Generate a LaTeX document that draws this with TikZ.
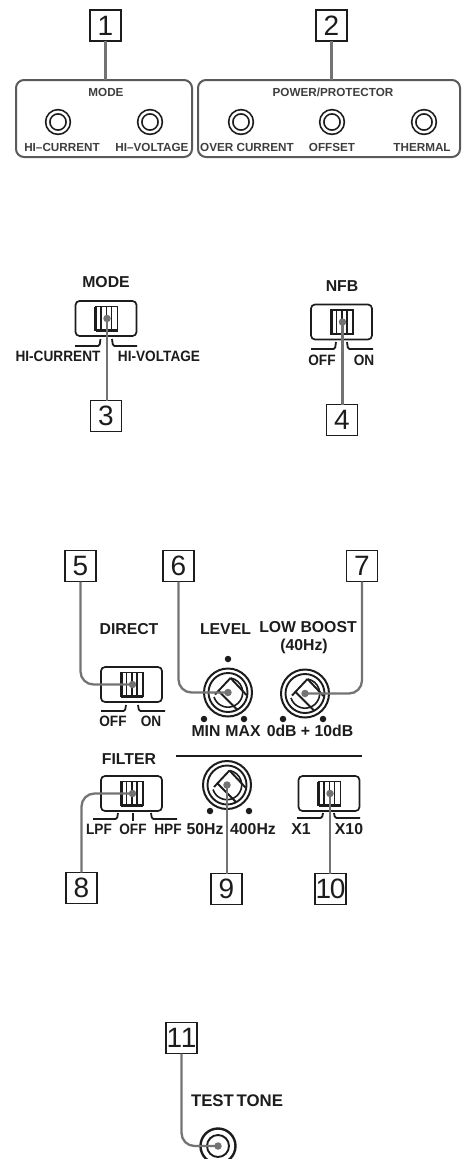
\documentclass[tikz,border=0pt]{standalone}
\usepackage{fontspec}
\setmainfont{Liberation Sans}
\newfontfamily\tightfont[FakeStretch=0.91]{Liberation Sans}
\definecolor{ink}{HTML}{1c1c1c}
\definecolor{lead}{HTML}{737373}
\definecolor{frame}{HTML}{5a5a5a}
\newcommand{\fsz}[1]{\fontsize{#1}{#1}\selectfont}
\tikzset{
  numbox/.style={draw=ink,line width=1.1pt,fill=white,minimum width=31pt,minimum height=31pt,inner sep=0pt,outer sep=0pt,text=ink,font=\fsz{28}},
  panel/.style={draw=frame,line width=2pt,rounded corners=8pt,inner sep=0pt,outer sep=0pt,minimum height=77pt},
  leader/.style={draw=lead,line width=2.3pt,rounded corners=13pt},
  led/.style={draw=ink,line width=1.7pt,double=white,double distance=2.4pt,circle,inner sep=0pt,outer sep=0pt,minimum size=20.5pt},
  small/.style={font=\bfseries\fsz{11.7},text=ink!85!white,inner sep=0pt},
  big/.style={font=\bfseries\fsz{15.8},text=ink,inner sep=0pt},
  tight/.style={font=\tightfont\bfseries\fsz{15},text=ink,inner sep=0pt},
  swbody/.style={draw=ink,line width=1.7pt,rounded corners=4pt,minimum width=61pt,minimum height=35pt,inner sep=0pt,outer sep=0pt},
  brk/.style={draw=ink,line width=1.8pt,rounded corners=1.5pt},
  pin/.style={circle,fill=lead,inner sep=0pt,outer sep=0pt,minimum size=7.5pt},
  mark1/.style={circle,fill=ink,inner sep=0pt,outer sep=0pt,minimum size=6.5pt},
}
% name, x, y (switch body centre)
\newcommand{\swi}[3]{%
  \node[swbody] (#1) at (#2,#3) {};
  \begin{scope}[shift={(#2,#3)}]
    \draw[ink,line width=1.7pt] (-10.5,-12) rectangle (11.5,12);
    \draw[ink,line width=3pt] (-10.5,-12) -- (-10.5,12);
    \draw[ink,line width=2.8pt] (-10.5,12) -- (11.5,12);
    \draw[ink,line width=1.4pt] (-5,-12) -- (-5,12) (0.5,-12) -- (0.5,12) (5.5,-12) -- (5.5,12);
    \node[pin] (#1dot) at (1,0) {};
  \end{scope}}
\newcommand{\knob}[3]{%
  \node[circle,draw=ink,line width=2pt,minimum size=48pt,inner sep=0pt,outer sep=0pt] (#1) at (#2,#3) {};
  \begin{scope}[shift={(#2,#3)}]
    \draw[ink,line width=1.9pt] (0,0) circle[radius=19.5];
    \draw[ink,line width=1.9pt] (2.5,-14.5) -- (-13,2) (2.5,-14.5) -- (18.5,2.5) (-9.5,-1.5) -- (9,17);
    \draw[ink,line width=1.6pt] (-14,4.5) arc[start angle=162,end angle=-80,radius=14.7];
    \node[pin] (#1dot) at (0,0) {};
  \end{scope}}
\begin{document}
\begin{tikzpicture}[x=1pt,y=-1pt]
\useasboundingbox (0,0) rectangle (462,1159);
\clip (0,0) rectangle (462,1159);
% ---- top panels
\node[panel,minimum width=176pt] (p1) at (104,118.5) {};
\node[panel,minimum width=262pt] (p2) at (329,118.5) {};
\node[numbox] (n1) at (105.5,25.5) {1};
\node[numbox] (n2) at (331.5,25.5) {2};
\draw[leader] (n1.south) -- (n1.south |- p1.north);
\draw[leader] (n2.south) -- (n2.south |- p2.north);
\node[small] (t1) at (106,92) {MODE};
\node[small] (t2) at (333,92) {POWER/PROTECTOR};
\node[led] (l1) at (58,122) {};
\node[led] (l2) at (150,122) {};
\node[led] (l3) at (241,122) {};
\node[led] (l4) at (332,122) {};
\node[led] (l5) at (424,122) {};
\node[small] (t3) at (62,147) {HI–CURRENT};
\node[small] (t4) at (152,147) {HI–VOLTAGE};
\node[small] (t5) at (247,147) {OVER CURRENT};
\node[small] (t6) at (332,147) {OFFSET};
\node[small] (t7) at (422,147) {THERMAL};
% ---- MODE switch
\node[big] (t8) at (106,282) {MODE};
\swi{s3}{106}{318.5}
\draw[brk] (75,346) -- (99.5,346) -- (100.5,339);
\draw[brk] (112,339) -- (113,346) -- (137,346);
\node[tight] (t9) at (58,356) {HI-CURRENT};
\node[tight] (t10) at (159,356) {HI-VOLTAGE};
\node[numbox] (n3) at (106,416) {3};
\draw[leader] (s3dot.center) -- (s3dot.center |- n3.north);
% ---- NFB switch
\node[big] (t11) at (342,286) {NFB};
\swi{s4}{341.5}{322}
\draw[brk] (311,349) -- (335,349) -- (336,342);
\draw[brk] (347,342) -- (348,349) -- (373,349);
\node[tight] (t12) at (322,360) {OFF};
\node[tight] (t13) at (364,360) {ON};
\node[numbox] (n4) at (342,420) {4};
\draw[leader] (s4dot.center) -- (s4dot.center |- n4.north);
% ---- DIRECT
\node[numbox] (n5) at (80.5,566) {5};
\node[big] (t14) at (129,629) {DIRECT};
\swi{s5}{131.5}{684.5}
\draw[brk] (101,711) -- (125,711) -- (126,705);
\draw[brk] (138,705) -- (139,711) -- (165,711);
\node[tight] (t15) at (113,721) {OFF};
\node[tight] (t16) at (151,721) {ON};
% ---- LEVEL
\node[numbox] (n6) at (178.5,566) {6};
\node[big] (t17) at (225.5,629) {LEVEL};
\knob{k6}{228}{692.5}
\node[mark1] (m1) at (228,659) {};
\node[mark1] (m2) at (204,719) {};
\node[mark1] (m3) at (244,719) {};
\node[big] (t18) at (206,731) {MIN};
\node[big] (t19) at (243,731) {MAX};
% ---- LOW BOOST
\node[numbox] (n7) at (362,566) {7};
\node[big] (t20) at (308,627) {LOW BOOST};
\node[big] (t21) at (304,646) {(40Hz)};
\knob{k7}{305}{693.5}
\node[mark1] (m4) at (283,719) {};
\node[mark1] (m5) at (323,719) {};
\node[big] (t22) at (310,731) {0dB + 10dB};
% ---- divider
\coordinate (dvl) at (176,756);
\coordinate (dvr) at (362,756);
\draw[ink,line width=2.2pt] (dvl) -- (dvr);
% ---- FILTER
\node[big] (t23) at (129,759) {FILTER};
\swi{s8}{131.5}{793.5}
\draw[brk] (93,819) -- (117,819) -- (118,813);
\draw[brk] (133,813) -- (133,821);
\draw[brk] (151,813) -- (152,819) -- (177,819);
\node[tight] (t24) at (99,829) {LPF};
\node[tight] (t25) at (133,829) {OFF};
\node[tight] (t26) at (168,829) {HPF};
\node[numbox] (n8) at (81.5,888) {8};
% ---- knob 9
\knob{k9}{227}{785}
\node[mark1] (m6) at (210,811) {};
\node[mark1] (m7) at (249,811) {};
\node[big] (t27) at (205,829) {50Hz};
\node[big] (t28) at (253,829) {400Hz};
\node[numbox] (n9) at (226.5,889) {9};
% ---- switch 10
\swi{s10}{329}{793.5}
\draw[brk] (297,818) -- (322,818) -- (323,813);
\draw[brk] (334,813) -- (335,818) -- (360,818);
\node[big] (t29) at (301,829) {X1};
\node[big] (t30) at (349,829) {X10};
\node[numbox] (n10) at (330.5,889) {1\kern-1.5pt 0};
% ---- test tone
\node[numbox] (n11) at (181.5,1038) {1\kern-1.5pt 1};
\node[big,font=\bfseries\fsz{16.8}] (t31) at (237,1101) {TEST\kern-2pt\ TONE};
\node[circle,draw=ink,line width=2.4pt,minimum size=35pt,inner sep=0pt,outer sep=0pt] (j) at (218,1146) {};
\node[circle,draw=ink,line width=1.9pt,minimum size=22pt,inner sep=0pt,outer sep=0pt] (j2) at (218,1146) {};
\node[pin] (jdot) at (218,1146) {};
% ---- leaders
\draw[leader] (n5.south) |- (s5dot.center);
\draw[leader] (n6.south) |- (k6dot.center);
\draw[leader] (n7.south) |- (k7dot.center);
\draw[leader] (n8.north) |- (s8dot.center);
\draw[leader] (k9dot.center) -- (k9dot.center |- n9.north);
\draw[leader] (s10dot.center) -- (s10dot.center |- n10.north);
\draw[leader] (n11.south) |- (jdot.center);
\end{tikzpicture}
\end{document}
